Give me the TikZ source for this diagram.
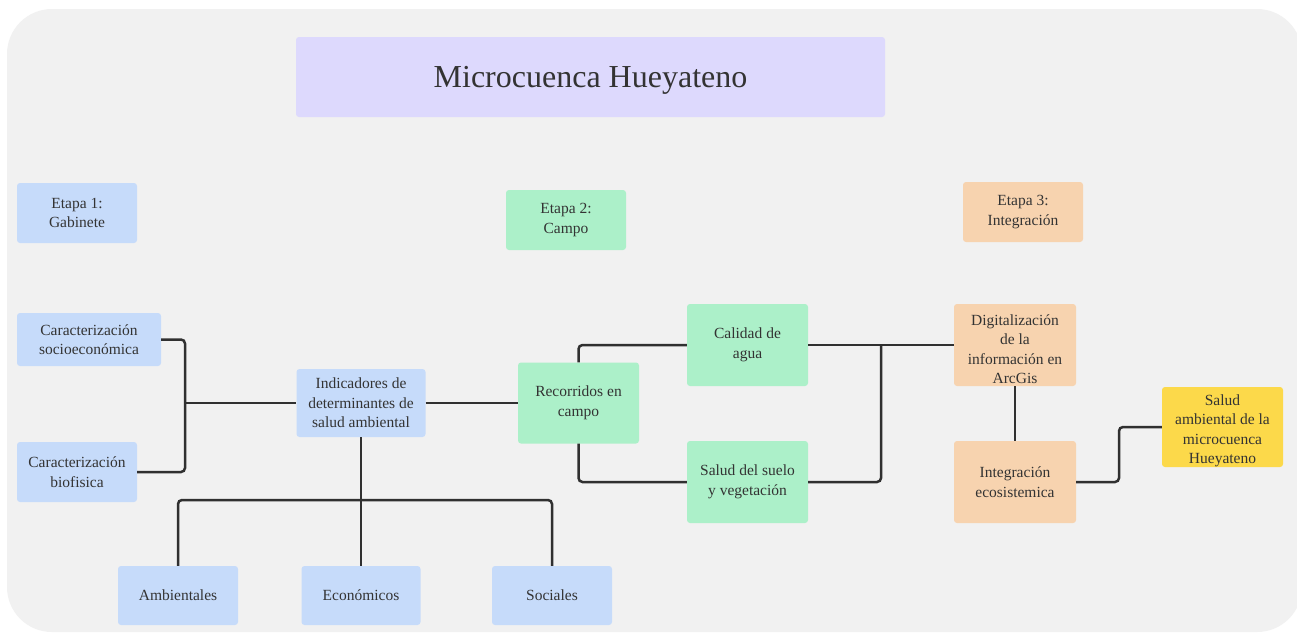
\documentclass[tikz,border=0pt]{standalone}
\usepackage{fontspec}
\setmainfont{Liberation Serif}
\definecolor{bgc}{HTML}{F1F1F1}
\definecolor{lav}{HTML}{DDD9FD}
\definecolor{blu}{HTML}{C6DBFA}
\definecolor{grn}{HTML}{ACF0C9}
\definecolor{org}{HTML}{F7D3AF}
\definecolor{ylw}{HTML}{FCD94A}
\definecolor{ink}{HTML}{333333}
\definecolor{ln}{HTML}{303030}
\tikzset{
  txt/.style={align=center, text=ink, inner sep=2pt, font=\fontsize{15.5}{19.5}\selectfont},
  box/.style={rounded corners=3pt, txt},
  bluebox/.style={box, fill=blu},
  greenbox/.style={box, fill=grn},
  orangebox/.style={box, fill=org},
  yellowbox/.style={box, fill=ylw},
  conn/.style={draw=ln, line width=2.5pt, rounded corners=4pt},
}
\begin{document}
\begin{tikzpicture}[x=1pt,y=-1pt]
\useasboundingbox (0,0) rectangle (1297,635);
\fill[white] (0,0) rectangle (1297,635);
\fill[bgc, rounded corners=45pt] (7,9) rectangle (1302,632);

\node[box, fill=lav, minimum width=589pt, minimum height=80pt, text depth=0pt, font=\fontsize{32}{38}\selectfont] (title) at (590.5,77) {Microcuenca Hueyateno};

\node[bluebox, minimum width=120pt, minimum height=60pt] (e1) at (77,213) {Etapa 1:\\Gabinete};
\node[greenbox, minimum width=120pt, minimum height=60pt] (e2) at (566,220) {Etapa 2:\\Campo};
\node[orangebox, minimum width=120pt, minimum height=60pt] (e3) at (1023,212) {Etapa 3:\\Integración};

\node[bluebox, minimum width=144pt, minimum height=53pt] (soc) at (89,339.5) {Caracterización\\socioeconómica};
\node[bluebox, minimum width=120pt, minimum height=60pt] (bio) at (77,472) {Caracterización\\biofisica};
\node[bluebox, minimum width=129pt, minimum height=68pt] (ind) at (361,403) {Indicadores de\\determinantes de\\salud ambiental};

\node[greenbox, minimum width=121pt, minimum height=81pt] (rec) at (578.5,403) {Recorridos en\\campo};
\node[greenbox, minimum width=121pt, minimum height=82pt] (cal) at (747.5,345) {Calidad de\\agua};
\node[greenbox, minimum width=121pt, minimum height=82pt] (sue) at (747.5,482) {Salud del suelo\\y vegetación};

\node[orangebox, minimum width=122pt, minimum height=82pt,
  label={[txt, yshift=-4pt]center:{Digitalización\\de la\\información en\\ArcGis}}] (dig) at (1015,345) {};
\node[orangebox, minimum width=122pt, minimum height=82pt] (int) at (1015,482) {Integración\\ecosistemica};
\node[yellowbox, minimum width=121pt, minimum height=80pt,
  label={[txt, yshift=-4pt]center:{Salud\\ambiental de la\\microcuenca\\Hueyateno}}] (sal) at (1222.5,427) {};

\node[bluebox, minimum width=120pt, minimum height=59pt] (amb) at (178,595.5) {Ambientales};
\node[bluebox, minimum width=119pt, minimum height=59pt] (eco) at (361,595.5) {Económicos};
\node[bluebox, minimum width=120pt, minimum height=59pt] (soci) at (552,595.5) {Sociales};

\coordinate (j1) at (185,403);
\coordinate (j2) at (361,500);
\coordinate (j3) at (881,345);
\coordinate (j4) at (1119,427);

\draw[conn] (soc.east) -| (j1) |- (bio.east);
\draw[conn] (j1) -- (ind.west);
\draw[conn] (ind.east) -- (rec.west);
\draw[conn] (ind.south) -- (j2);
\draw[conn] (amb.north) |- (j2) -| (soci.north);
\draw[conn] (eco.north) -- (j2);
\draw[conn] (rec.north) |- (cal.west);
\draw[conn] (rec.south) |- (sue.west);
\draw[conn] (cal.east) -- (dig.west);
\draw[conn] (j3) |- (sue.east);
\draw[conn] (dig.south) -- (int.north);
\draw[conn] (int.east) -| (j4) -- (sal.west);
\end{tikzpicture}
\end{document}
